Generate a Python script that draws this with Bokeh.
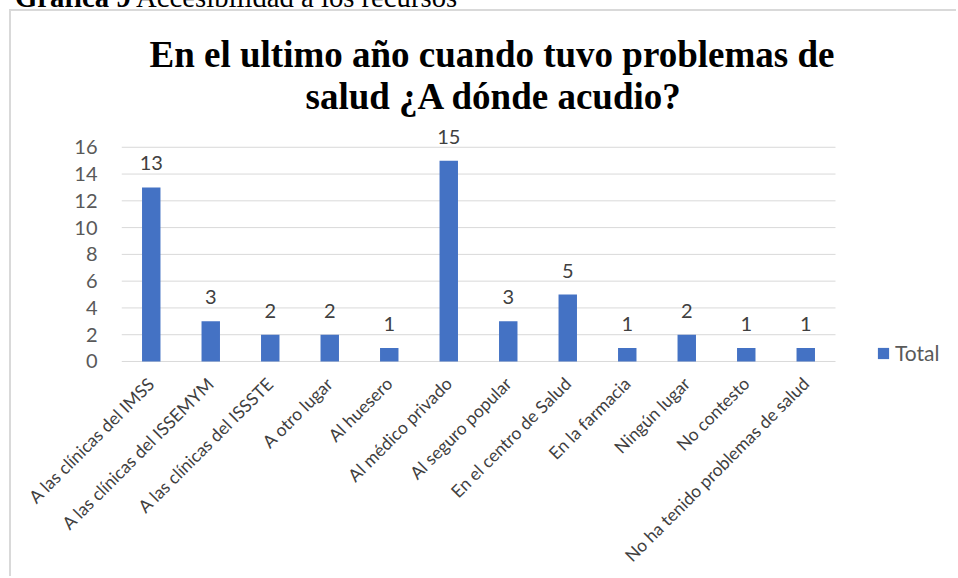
import math
from bokeh.plotting import figure
from bokeh.models import (ColumnDataSource, Range1d, Legend, LegendItem,
                          FixedTicker, Title, Div)
from bokeh.core.properties import value
from bokeh.embed import file_html
from bokeh.resources import INLINE

caption_bold = "Gráfica 9"
caption_text = "Accesibilidad a los recursos"
categories = [
    "A las clínicas del IMSS",
    "A las clínicas del ISSEMYM",
    "A las clínicas del ISSSTE",
    "A otro lugar",
    "Al huesero",
    "Al médico privado",
    "Al seguro popular",
    "En el centro de Salud",
    "En la farmacia",
    "Ningún lugar",
    "No contesto",
    "No ha tenido problemas de salud",
]
totals = [13, 3, 2, 2, 1, 15, 3, 5, 1, 2, 1, 1]
y_ticks = [0, 2, 4, 6, 8, 10, 12, 14, 16]
series_name = "Total"
title_lines = ["En el ultimo año cuando tuvo problemas de", "salud ¿A dónde acudio?"]

BAR = "#4472C4"
GRID = "#D9D9D9"

n = len(categories)
xs = list(range(n))

src = ColumnDataSource(dict(x=xs, val=totals, lab=[str(v) for v in totals]))

p = figure(width=947, height=567, output_backend="svg", toolbar_location=None,
           x_range=Range1d(-0.5, 13.567), y_range=Range1d(-0.3, 18),
           min_border_left=110, min_border_right=0,
           min_border_top=109, min_border_bottom=213,
           styles={"margin-left": "9px", "margin-top": "9px",
                   "border-left": f"2px solid {GRID}",
                   "border-top": f"2px solid {GRID}"})
p.outline_line_color = None
p.background_fill_color = "white"
p.border_fill_color = "white"
p.xgrid.grid_line_color = None
p.ygrid.grid_line_color = None

# horizontal gridlines (incl. the category baseline) across the category area only
p.segment(x0=[-0.5] * len(y_ticks), x1=[n - 0.5] * len(y_ticks),
          y0=y_ticks, y1=y_ticks, line_color=GRID, line_width=1)

bars = p.vbar(x="x", top="val", width=0.31, source=src, color=BAR, line_color=None)
p.text(x="x", y="val", text="lab", source=src, y_offset=-17,
       text_align="center", text_baseline="bottom",
       text_font=value("Lato"), text_font_size="20px", text_color="#404040")

p.yaxis.ticker = FixedTicker(ticks=y_ticks)
p.yaxis.axis_line_color = None
p.yaxis.major_tick_line_color = None
p.yaxis.minor_tick_line_color = None
p.yaxis.major_label_text_font = "Lato"
p.yaxis.major_label_text_font_size = "20px"
p.yaxis.major_label_text_color = "#595959"
p.yaxis.major_label_standoff = 18

p.xaxis.ticker = FixedTicker(ticks=xs)
p.xaxis.major_label_overrides = {i: c for i, c in zip(xs, categories)}
p.xaxis.axis_line_color = None
p.xaxis.major_tick_line_color = None
p.xaxis.minor_tick_line_color = None
p.xaxis.major_label_orientation = math.pi / 4
p.xaxis.major_label_text_font = "Lato"
p.xaxis.major_label_text_font_size = "17.5px"
p.xaxis.major_label_text_color = "#404040"
p.xaxis.major_label_standoff = 9

# second line first so it sits nearest the plot
for line, so, off in [(title_lines[1], 8, 184), (title_lines[0], -10, 28)]:
    p.add_layout(Title(text=line, align="left", standoff=so, offset=off,
                       text_font="Liberation Serif", text_font_style="bold",
                       text_font_size="37px", text_color="#000000"), "above")

legend = Legend(items=[LegendItem(label=series_name, renderers=[bars])],
                location=(755, 0), padding=0, margin=0, spacing=0,
                glyph_width=14, glyph_height=14, label_standoff=5,
                border_line_color=None, background_fill_alpha=0,
                label_text_font="Lato", label_text_font_size="21px",
                label_text_color="#595959")
p.add_layout(legend, "center")

caption = Div(text=f"<b>{caption_bold}</b> {caption_text}",
              styles={"position": "absolute", "left": "10px", "top": "-22px",
                      "font-family": "'Liberation Serif', serif",
                      "font-size": "28.7px", "line-height": "28px",
                      "white-space": "nowrap", "color": "#000000"})

open("out.html", "w").write(file_html([p, caption], INLINE))
